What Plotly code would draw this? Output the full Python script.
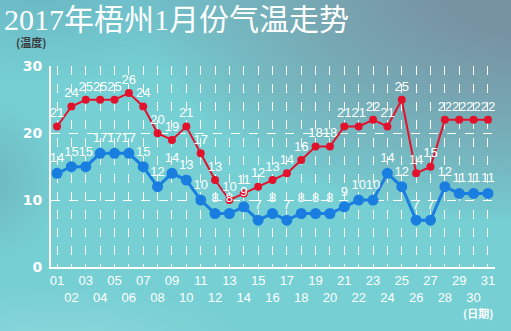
import base64, struct, zlib
import numpy as np
import plotly.graph_objects as go

days = list(range(1, 32))
day_labels = [f"{d:02d}" for d in days]
high = [21, 24, 25, 25, 25, 26, 24, 20, 19, 21, 17, 13, 10, 11, 12, 13, 14, 16, 18, 18,
        21, 21, 22, 21, 25, 14, 15, 22, 22, 22, 22]
low = [14, 15, 15, 17, 17, 17, 15, 12, 14, 13, 10, 8, 8, 9, 7, 8, 7, 8, 8, 8,
       9, 10, 10, 14, 12, 7, 7, 12, 11, 11, 11]
y_ticks = [0, 10, 20, 30]

W, H = 511, 331
L, R, T, B = 51, 16, 66, 64

# ---- background gradient image ----
yy, xx = np.mgrid[0:H, 0:W].astype(float)
base = np.array([117, 207, 211], float)
gray = np.array([120, 144, 160], float)
img = np.ones((H, W, 3)) * base
d = np.sqrt(((xx - 520) / 320) ** 2 + ((yy + 20) / 200) ** 2)
w1 = np.clip(1.2 - d, 0, 1) ** 0.8
w1 = np.clip(w1, 0, 0.95)
img = img * (1 - w1[..., None]) + gray * w1[..., None]
d2 = np.sqrt(((xx - 40) / 260) ** 2 + ((yy + 10) / 90) ** 2)
w2 = np.clip(1 - d2, 0, 1) * 0.55
tl = np.array([100, 165, 185], float)
img = img * (1 - w2[..., None]) + tl * w2[..., None]
d3 = np.sqrt(((xx + 10) / 70) ** 2 + ((yy - 180) / 80) ** 2)
w3 = np.clip(1 - d3, 0, 1) * 0.5
lc = np.array([105, 160, 175], float)
img = img * (1 - w3[..., None]) + lc * w3[..., None]
d4 = np.sqrt(((xx - 60) / 200) ** 2 + ((yy - 340) / 60) ** 2)
w4 = np.clip(1 - d4, 0, 1) * 0.5
bl = np.array([160, 222, 226], float)
img = img * (1 - w4[..., None]) + bl * w4[..., None]
img = np.clip(img, 0, 255).astype(np.uint8)


def to_png(a):
    h, w, _ = a.shape
    raw = b"".join(b"\x00" + a[r].tobytes() for r in range(h))

    def chunk(t, data):
        c = struct.pack(">I", len(data)) + t + data
        return c + struct.pack(">I", zlib.crc32(t + data) & 0xffffffff)
    return (b"\x89PNG\r\n\x1a\n" + chunk(b"IHDR", struct.pack(">IIBBBBB", w, h, 8, 2, 0, 0, 0))
            + chunk(b"IDAT", zlib.compress(raw, 9)) + chunk(b"IEND", b""))


bg_uri = "data:image/png;base64," + base64.b64encode(to_png(img)).decode()

pw, ph = W - L - R, H - T - B

fig = go.Figure()
fig.add_trace(go.Scatter(
    x=days, y=high, mode="lines+markers+text",
    line=dict(color="#e3122c", width=2),
    marker=dict(color="#e3122c", size=8),
    text=[str(v) for v in high], textposition="top center",
    textfont=dict(color="white", size=13, family="Liberation Sans"),
    cliponaxis=False, showlegend=False))
fig.add_trace(go.Scatter(
    x=days, y=low, mode="lines+markers+text",
    line=dict(color="#1a7ee0", width=3),
    marker=dict(color="#1a7ee0", size=11),
    text=[str(v) for v in low], textposition="top center",
    textfont=dict(color="white", size=13, family="Liberation Sans"),
    cliponaxis=False, showlegend=False))

ticktext = [lab if d % 2 == 1 else "<br>" + lab for d, lab in zip(days, day_labels)]

fig.update_layout(
    width=W, height=H,
    margin=dict(l=L, r=R, t=T, b=B, autoexpand=False),
    paper_bgcolor="#75cfd3",
    plot_bgcolor="rgba(0,0,0,0)",
    images=[dict(source=bg_uri, xref="paper", yref="paper",
                 x=-L / pw, y=1 + T / ph, sizex=W / pw, sizey=H / ph,
                 xanchor="left", yanchor="top", sizing="stretch", layer="below")],
    title=dict(text="2017年梧州1月份气温走势", xref="container", yref="container",
               x=4 / W, xanchor="left", y=1 - 19 / H, yanchor="middle",
               font=dict(family="Liberation Serif, Noto Sans CJK SC", size=30, color="white")),
    xaxis=dict(range=[0.58, 31.49], tickmode="array", tickvals=days, ticktext=ticktext,
               tickangle=0, showgrid=True, gridcolor="white", griddash="dash", gridwidth=1,
               showline=True, linecolor="white", linewidth=2, zeroline=False, automargin=False,
               tickfont=dict(color="white", size=13, family="Liberation Sans"), ticks=""),
    yaxis=dict(range=[0, 30.05], tickmode="array", tickvals=y_ticks,
               showgrid=True, gridcolor="white", griddash="dash", gridwidth=1,
               showline=True, linecolor="white", linewidth=2, zeroline=False, automargin=False,
               tickfont=dict(color="white", size=14, family="DejaVu Sans", weight="bold"),
               ticks="outside", ticklen=4, tickcolor="rgba(0,0,0,0)"),
    annotations=[
        dict(text="(温度)", xref="paper", yref="paper", x=-37 / pw, y=1 + 24 / ph,
             xanchor="left", yanchor="middle", showarrow=False,
             font=dict(family="Noto Sans CJK SC", size=11, color="#3a3a3a", weight="bold")),
        dict(text="(日期)", xref="paper", yref="paper", x=1, y=-46 / ph,
             xanchor="right", yanchor="middle", showarrow=False,
             font=dict(family="Noto Sans CJK SC", size=11, color="white", weight="bold")),
    ],
)

fig.write_html("out.html")
